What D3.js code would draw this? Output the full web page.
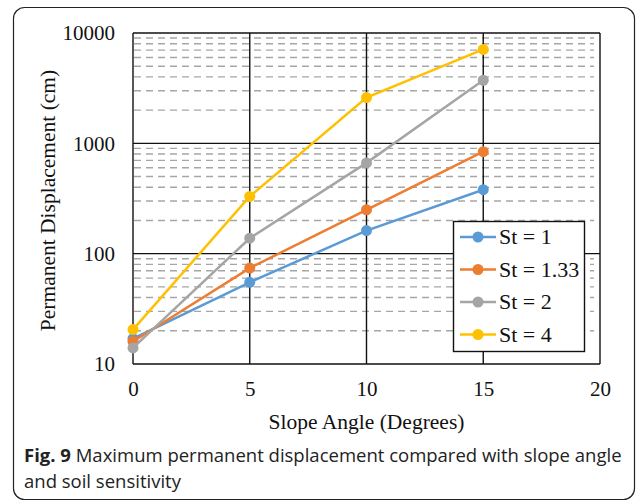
<!DOCTYPE html>
<html>
<head>
<meta charset="utf-8">
<script src="https://cdn.jsdelivr.net/npm/d3@7"></script>
<style>
  body { margin: 0; background: #fff; }
  svg { display: block; }
</style>
</head>
<body>
<svg id="chart" width="637" height="503"></svg>
<script>
'use strict'

// values
const angles = [0, 5, 10, 15]
const st1 = [17, 55, 162, 380]
const st133 = [16, 74, 250, 840]
const st2 = [14, 138, 665, 3730]
const st4 = [20.5, 330, 2600, 7100]
const seriesNames = ['St = 1', 'St = 1.33', 'St = 2', 'St = 4']
const seriesColors = ['#5B9BD5', '#ED7D31', '#A5A5A5', '#FFC000']
const xTicks = [0, 5, 10, 15, 20]
const yTicks = [10, 100, 1000, 10000]

const allSeries = [st1, st133, st2, st4]

const svg = d3.select('#chart')

// frame
svg.append('rect')
  .attr('x', 13.5).attr('y', 7.5)
  .attr('width', 621).attr('height', 492)
  .attr('rx', 11)
  .attr('fill', 'none').attr('stroke', '#222').attr('stroke-width', 1.2)

const plotL = 133, plotR = 600, plotT = 33, plotB = 364

const x = d3.scaleLinear().domain([0, 20]).range([plotL, plotR])
const y = d3.scaleLog().domain([10, 10000]).range([plotB, plotT])

// minor dashed grid
let minors = []
for (let dec = 10; dec < 10000; dec *= 10) {
  for (let k = 2; k <= 9; k++) minors.push(dec * k)
}
svg.append('g').selectAll('line').data(minors).join('line')
  .attr('x1', plotL + 1).attr('x2', plotR - 6)
  .attr('y1', d => y(d)).attr('y2', d => y(d))
  .attr('stroke', '#A6A6A6').attr('stroke-width', 1.4)
  .attr('stroke-dasharray', '7,5')

// major grid
svg.append('g').selectAll('line').data(yTicks).join('line')
  .attr('x1', plotL).attr('x2', plotR)
  .attr('y1', d => y(d)).attr('y2', d => y(d))
  .attr('stroke', '#111').attr('stroke-width', 1.4)
svg.append('g').selectAll('line').data(xTicks).join('line')
  .attr('x1', d => x(d)).attr('x2', d => x(d))
  .attr('y1', plotT).attr('y2', plotB)
  .attr('stroke', '#111').attr('stroke-width', 1.4)

// axes labels
const yAxis = d3.axisLeft(y).tickValues(yTicks).tickFormat(d3.format('d')).tickSize(0).tickPadding(18)
const gy = svg.append('g').attr('transform', `translate(${plotL},0)`).call(yAxis)
gy.select('.domain').remove()
gy.selectAll('text').attr('font-family', 'Liberation Serif').attr('font-size', 21).attr('fill', '#111')

const xAxis = d3.axisBottom(x).tickValues(xTicks).tickSize(0).tickPadding(17)
const gx = svg.append('g').attr('transform', `translate(0,${plotB})`).call(xAxis)
gx.select('.domain').remove()
gx.selectAll('text').attr('font-family', 'Liberation Serif').attr('font-size', 21).attr('fill', '#111')

svg.append('text')
  .attr('x', x(10)).attr('y', 429)
  .attr('text-anchor', 'middle')
  .attr('font-family', 'Liberation Serif').attr('font-size', 21.5).attr('fill', '#111')
  .text('Slope Angle (Degrees)')

svg.append('text')
  .attr('transform', `translate(55,${(plotT + plotB) / 2 + 2}) rotate(-90)`)
  .attr('text-anchor', 'middle')
  .attr('font-family', 'Liberation Serif').attr('font-size', 21.5).attr('fill', '#111')
  .text('Permanent Displacement (cm)')

// series
const line = d3.line().x((d, i) => x(angles[i])).y(d => y(d))
allSeries.forEach(function(s, j){
  svg.append('path').datum(s)
    .attr('d', line)
    .attr('fill', 'none').attr('stroke', seriesColors[j]).attr('stroke-width', 2.5)
  svg.append('g').selectAll('circle').data(s).join('circle')
    .attr('cx', (d, i) => x(angles[i])).attr('cy', d => y(d))
    .attr('r', 5.5).attr('fill', seriesColors[j])
})

// legend
const lg = svg.append('g')
lg.append('rect')
  .attr('x', 453.5).attr('y', 221.5).attr('width', 131).attr('height', 130)
  .attr('fill', '#fff').attr('stroke', '#111').attr('stroke-width', 1.4)
seriesNames.forEach(function(n, j){
  const ly = 237 + j * 32.5
  lg.append('line').attr('x1', 460).attr('x2', 496).attr('y1', ly).attr('y2', ly)
    .attr('stroke', seriesColors[j]).attr('stroke-width', 2.5)
  lg.append('circle').attr('cx', 478).attr('cy', ly).attr('r', 5.5).attr('fill', seriesColors[j])
  lg.append('text').attr('x', 499).attr('y', ly + 7)
    .attr('font-family', 'Liberation Serif').attr('font-size', 22).attr('fill', '#111')
    .text(n)
})

// caption
const cap = svg.append('text')
  .attr('font-family', 'Open Sans').attr('font-size', 18.5).attr('fill', '#222')
cap.append('tspan').attr('x', 24).attr('y', 462).attr('font-weight', 'bold').text('Fig. 9')
cap.append('tspan').text(' Maximum permanent displacement compared with slope angle')
svg.append('text')
  .attr('x', 24).attr('y', 488)
  .attr('font-family', 'Open Sans').attr('font-size', 18.5).attr('fill', '#222')
  .text('and soil sensitivity')
</script>
</body>
</html>
